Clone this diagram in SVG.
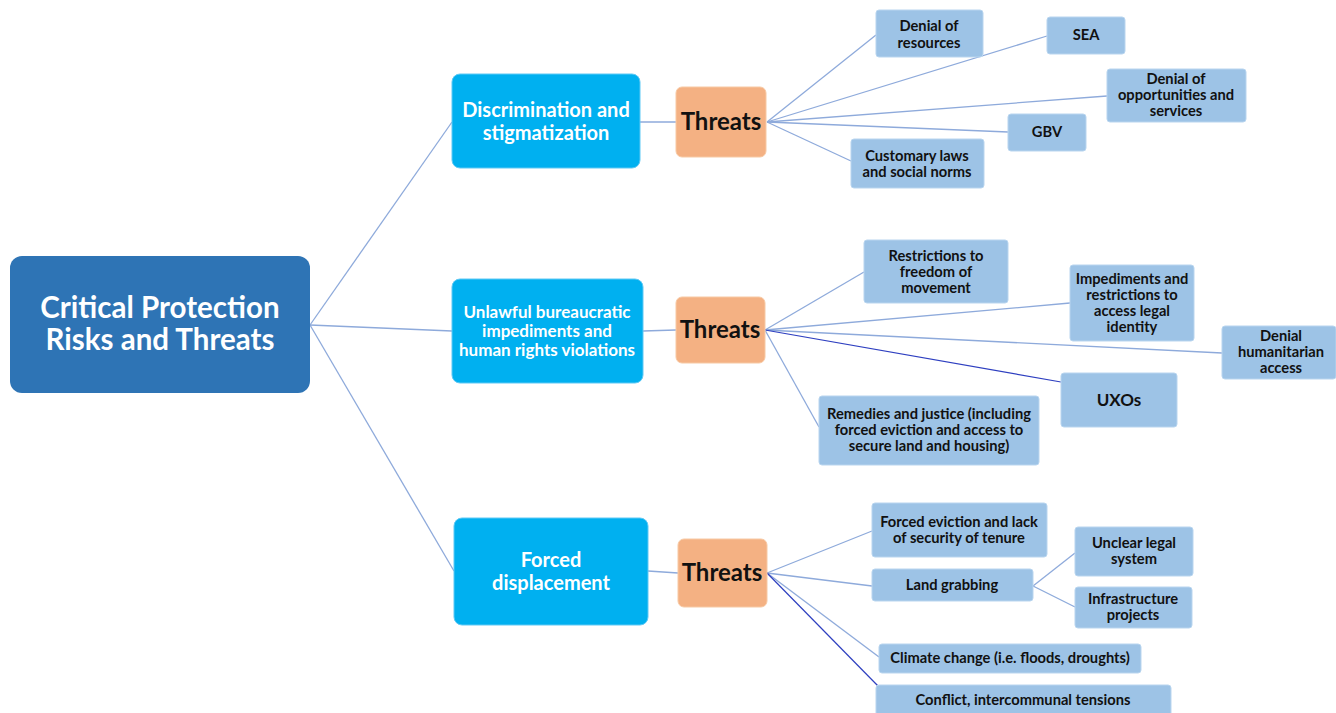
<svg xmlns="http://www.w3.org/2000/svg" width="1336" height="713" viewBox="0 0 1336 713">
<style>
text{font-family:Lato,"Open Sans","Liberation Sans",sans-serif;font-weight:bold;text-anchor:middle}
.root{fill:#2E74B5}
.root-t{fill:#fff;font-size:29.5px}
.mid{fill:#00B0F0;stroke:#5fc9f5;stroke-width:1}
.mid-t{fill:#fff;font-size:20px}
.mid-s{fill:#fff;font-size:17px}
.thr{fill:#F4B183;stroke:#f7c9a4;stroke-width:1}
.thr-t{fill:#111;font-size:24px}
.leaf{fill:#9DC3E6;stroke:#b9d5ef;stroke-width:1}
.leaf-t{fill:#111;font-size:14.7px}
.c{stroke:#8EAADB;stroke-width:1.3;fill:none}
.d{stroke:#2E3FC0;stroke-width:1.2;fill:none}
</style>
<rect width="1336" height="713" fill="#fff"/>
<g id="connectors">
<line class="c" x1="310" y1="325" x2="452" y2="122"/>
<line class="c" x1="310" y1="325" x2="452" y2="331"/>
<line class="c" x1="310" y1="325" x2="454" y2="571"/>
<line class="c" x1="640" y1="122" x2="676" y2="122"/>
<line class="c" x1="643" y1="331" x2="676" y2="330"/>
<line class="c" x1="648" y1="571" x2="678" y2="573"/>
<line class="c" x1="767" y1="122" x2="876" y2="35"/>
<line class="c" x1="767" y1="122" x2="1047" y2="36"/>
<line class="c" x1="767" y1="122" x2="1107" y2="96"/>
<line class="c" x1="767" y1="122" x2="1008" y2="132"/>
<line class="c" x1="767" y1="122" x2="851" y2="161"/>
<line class="c" x1="765" y1="330" x2="864" y2="272"/>
<line class="c" x1="765" y1="330" x2="1070" y2="303"/>
<line class="c" x1="765" y1="330" x2="1222" y2="353"/>
<line class="d" x1="765" y1="330" x2="1061" y2="382"/>
<line class="c" x1="765" y1="330" x2="819" y2="427"/>
<line class="c" x1="767" y1="573" x2="872" y2="531"/>
<line class="c" x1="767" y1="573" x2="872" y2="586"/>
<line class="c" x1="1033" y1="586" x2="1075" y2="553"/>
<line class="c" x1="1033" y1="586" x2="1075" y2="607"/>
<line class="c" x1="767" y1="573" x2="879" y2="657"/>
<line class="d" x1="767" y1="573" x2="879" y2="687"/>
</g>
<g id="root"><rect class="root" x="10" y="256" width="300" height="137" rx="12"/>
<text class="root-t" x="160" y="318">Critical Protection</text>
<text class="root-t" x="160" y="350">Risks and Threats</text></g>
<g id="discrimination"><rect class="mid" x="452" y="74" width="188" height="94" rx="8"/>
<text class="mid-t" x="546" y="117">Discrimination and</text>
<text class="mid-t" x="546" y="140">stigmatization</text></g>
<g id="threats1"><rect class="thr" x="676" y="87" width="90" height="70" rx="6"/>
<text class="thr-t" x="721" y="130">Threats</text></g>
<g id="unlawful"><rect class="mid" x="452" y="279" width="191" height="104" rx="8"/>
<text class="mid-s" x="547" y="318">Unlawful bureaucratic</text>
<text class="mid-s" x="547" y="337">impediments and</text>
<text class="mid-s" x="547" y="356">human rights violations</text></g>
<g id="threats2"><rect class="thr" x="676" y="297" width="89" height="66" rx="6"/>
<text class="thr-t" x="720" y="338">Threats</text></g>
<g id="forced"><rect class="mid" x="454" y="518" width="194" height="107" rx="8"/>
<text class="mid-t" x="551" y="567">Forced</text>
<text class="mid-t" x="551" y="590">displacement</text></g>
<g id="threats3"><rect class="thr" x="678" y="539" width="89" height="68" rx="6"/>
<text class="thr-t" x="722" y="581">Threats</text></g>
<g id="denial-resources"><rect class="leaf" x="876" y="10" width="107" height="47" rx="3"/>
<text class="leaf-t" x="929" y="31">Denial of</text><text class="leaf-t" x="929" y="48">resources</text></g>
<g id="sea"><rect class="leaf" x="1047" y="17" width="78" height="37" rx="3"/>
<text class="leaf-t" x="1086" y="40">SEA</text></g>
<g id="denial-opps"><rect class="leaf" x="1107" y="69" width="139" height="53" rx="3"/>
<text class="leaf-t" x="1176" y="84">Denial of</text><text class="leaf-t" x="1176" y="100">opportunities and</text><text class="leaf-t" x="1176" y="116">services</text></g>
<g id="gbv"><rect class="leaf" x="1008" y="114" width="78" height="37" rx="3"/>
<text class="leaf-t" x="1047" y="137">GBV</text></g>
<g id="customary"><rect class="leaf" x="851" y="139" width="133" height="49" rx="3"/>
<text class="leaf-t" x="917" y="161">Customary laws</text><text class="leaf-t" x="917" y="177">and social norms</text></g>
<g id="restrictions"><rect class="leaf" x="864" y="240" width="144" height="63" rx="3"/>
<text class="leaf-t" x="936" y="261">Restrictions to</text><text class="leaf-t" x="936" y="277">freedom of</text><text class="leaf-t" x="936" y="293">movement</text></g>
<g id="impediments"><rect class="leaf" x="1070" y="265" width="124" height="76" rx="3"/>
<text class="leaf-t" x="1132" y="284">Impediments and</text><text class="leaf-t" x="1132" y="300">restrictions to</text><text class="leaf-t" x="1132" y="316">access legal</text><text class="leaf-t" x="1132" y="332">identity</text></g>
<g id="denial-humanitarian"><rect class="leaf" x="1222" y="326" width="114" height="53" rx="3"/>
<text class="leaf-t" x="1281" y="341">Denial</text><text class="leaf-t" x="1281" y="357">humanitarian</text><text class="leaf-t" x="1281" y="373">access</text></g>
<g id="uxos"><rect class="leaf" x="1061" y="373" width="116" height="54" rx="3"/>
<text class="leaf-t" x="1119" y="406" style="font-size:17px">UXOs</text></g>
<g id="remedies"><rect class="leaf" x="819" y="396" width="220" height="69" rx="3"/>
<text class="leaf-t" x="929" y="419">Remedies and justice (including</text><text class="leaf-t" x="929" y="435">forced eviction and access to</text><text class="leaf-t" x="929" y="451">secure land and housing)</text></g>
<g id="forced-eviction"><rect class="leaf" x="872" y="503" width="175" height="54" rx="3"/>
<text class="leaf-t" x="959" y="527">Forced eviction and lack</text><text class="leaf-t" x="959" y="543">of security of tenure</text></g>
<g id="land-grabbing"><rect class="leaf" x="872" y="569" width="161" height="32" rx="3"/>
<text class="leaf-t" x="952" y="590">Land grabbing</text></g>
<g id="unclear-legal"><rect class="leaf" x="1075" y="527" width="118" height="49" rx="3"/>
<text class="leaf-t" x="1134" y="548">Unclear legal</text><text class="leaf-t" x="1134" y="564">system</text></g>
<g id="infrastructure"><rect class="leaf" x="1075" y="587" width="117" height="41" rx="3"/>
<text class="leaf-t" x="1133" y="604">Infrastructure</text><text class="leaf-t" x="1133" y="620">projects</text></g>
<g id="climate"><rect class="leaf" x="879" y="644" width="262" height="29" rx="3"/>
<text class="leaf-t" x="1010" y="663">Climate change (i.e. floods, droughts)</text></g>
<g id="conflict"><rect class="leaf" x="876" y="685" width="295" height="32" rx="3"/>
<text class="leaf-t" x="1023" y="705">Conflict, intercommunal tensions</text></g>
</svg>
